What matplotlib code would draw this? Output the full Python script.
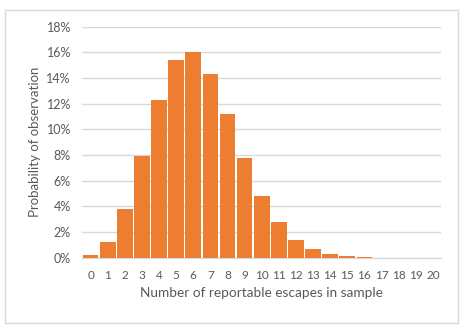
import matplotlib
matplotlib.use('Agg')
import matplotlib.pyplot as plt
import matplotlib.patches as mpatches
import numpy as np

# Probability (%) of observing each number of reportable escapes
escapes = list(range(21))
probability = [0.2, 1.2, 3.8, 7.9, 12.3, 15.4, 16.0, 14.3, 11.2, 7.8, 4.8,
               2.8, 1.4, 0.7, 0.3, 0.1, 0.03, 0.01, 0.0, 0.0, 0.0]
y_ticks = [0, 2, 4, 6, 8, 10, 12, 14, 16, 18]

plt.rcParams['font.family'] = ['Lato', 'DejaVu Sans']
text_grey = '#595959'

fig = plt.figure(figsize=(4.62, 3.26), dpi=100)
ax = fig.add_axes([0.1775, 0.2095, 0.778, 0.7085])

# chart frame
fig.patches.append(mpatches.Rectangle((0.0108, 0.0092), 0.9805, 0.960,
                                      transform=fig.transFigure, fill=False,
                                      edgecolor='#d9d9d9', linewidth=1.0))

ax.bar(escapes, probability, width=0.92, color='#ED7D31', zorder=3)

ax.set_xlim(-0.5, 20.5)
ax.set_ylim(0, 18)
ax.set_yticks(y_ticks)
ax.set_yticklabels([f'{t}%' for t in y_ticks])
ax.set_xticks(escapes)
ax.set_xticklabels([str(e) for e in escapes])

ax.grid(axis='y', color='#d9d9d9', linewidth=1.0, zorder=0)
for side in ['top', 'right', 'left']:
    ax.spines[side].set_visible(False)
ax.spines['bottom'].set_color('#d9d9d9')
ax.spines['bottom'].set_linewidth(1.0)

ax.tick_params(axis='both', length=0, colors=text_grey)
ax.tick_params(axis='x', pad=8.5, labelsize=8.5)
ax.tick_params(axis='y', pad=8, labelsize=9)

ax.set_xlabel('Number of reportable escapes in sample', fontsize=9.8,
              color=text_grey, labelpad=5)
ax.set_ylabel('Probability of observation', fontsize=9.5,
              color=text_grey, labelpad=4)

fig.savefig('out.png', dpi=100, facecolor='white')
